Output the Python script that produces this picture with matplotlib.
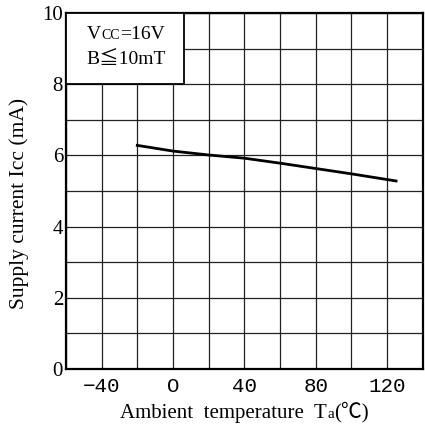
import matplotlib
matplotlib.use("Agg")
import matplotlib.pyplot as plt
from matplotlib.patches import Rectangle
from matplotlib.offsetbox import TextArea, HPacker, VPacker, AnnotationBbox

# data
temps = [-20, 0, 20, 40, 60, 80, 100, 125]
icc = [6.28, 6.12, 6.01, 5.92, 5.78, 5.63, 5.48, 5.28]

x_ticks = [-40, 0, 40, 80, 120]
x_tick_labels = ["\u221240", "O", "40", "80", "120"]
y_ticks = [0, 2, 4, 6, 8, 10]

serif = ["Liberation Serif", "Noto Sans CJK JP", "DejaVu Serif"]
mono = ["Liberation Mono", "DejaVu Sans Mono"]

fig = plt.figure(figsize=(4.25, 4.32), dpi=100)
ax = fig.add_axes([0.155, 0.146, 0.84, 0.824])

ax.set_xlim(-60, 140)
ax.set_ylim(0, 10)

# grid every 20 degC / 1 mA
ax.set_xticks(range(-60, 141, 20), minor=True)
ax.set_yticks(range(0, 11, 1), minor=True)
ax.tick_params(which="both", length=0)

ax.set_xticks(x_ticks)
ax.set_xticklabels(x_tick_labels, family=mono, fontsize=15)
ax.set_yticks(y_ticks)
ax.set_yticklabels([str(v) for v in y_ticks], family=serif, fontsize=15)
ax.grid(which="both", color="#222222", linewidth=0.9)
ax.tick_params(axis="x", pad=6)
ax.tick_params(axis="y", pad=2)

for s in ax.spines.values():
    s.set_linewidth(1.6)

ax.plot(temps, icc, color="black", linewidth=2.0, zorder=3)

# condition box in the top-left cell
ax.add_patch(Rectangle((0, 0.8), 0.33, 0.2, transform=ax.transAxes,
                       facecolor="white", edgecolor="black", linewidth=1.3, zorder=4))
big = dict(family=serif, size=14)
small = dict(family=serif, size=10)
line1 = HPacker(children=[TextArea("V", textprops=big), TextArea("CC", textprops=small),
                          TextArea("=16V", textprops=big)], align="baseline", pad=0, sep=0)
line2 = TextArea("B\u226610mT", textprops=dict(family=serif, size=14))
box = VPacker(children=[line1, line2], align="center", pad=0, sep=6)
ax.add_artist(AnnotationBbox(box, (0.168, 0.905), xycoords="axes fraction",
                             frameon=False, zorder=5))

# x label with small subscript-like "a"
xl = HPacker(children=[TextArea("Ambient  temperature  T", textprops=dict(family=serif, size=15)),
                       TextArea("a", textprops=dict(family=serif, size=11)),
                       TextArea("(\u2103)", textprops=dict(family=serif, size=15))],
             align="baseline", pad=0, sep=0)
fig.add_artist(AnnotationBbox(xl, (0.575, 0.045), xycoords="figure fraction", frameon=False))

fig.text(0.045, 0.53, "Supply current Icc (mA)", rotation=90, family=serif,
         fontsize=15.5, ha="center", va="center")

fig.savefig("out.png", dpi=100)
